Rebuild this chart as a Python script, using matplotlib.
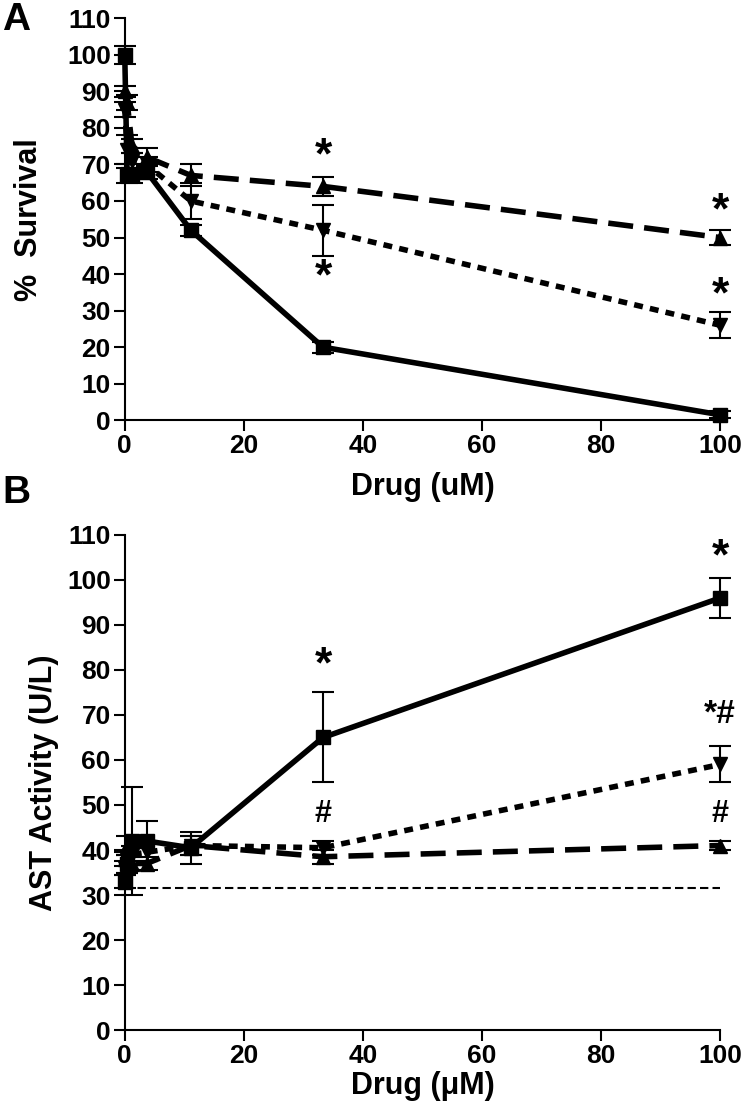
import matplotlib
matplotlib.use("Agg")
import matplotlib.pyplot as plt

plt.rcParams['font.family'] = ['Liberation Sans', 'DejaVu Sans']
plt.rcParams['font.weight'] = 'bold'

dose = [0, 0.41, 1.23, 3.7, 11.1, 33.3, 100]

# panel A: % survival
surv_sq = [100, 67, 67, 68, 52, 20, 1.5]
surv_sq_err = [2.5, 2, 2, 2, 1.5, 1.5, 1]
surv_up = [90, 87, 75, 72, 67, 64, 50]
surv_up_err = [1.5, 2, 2, 2.5, 3, 2.5, 2]
surv_dn = [85, 74, 71, 70, 60, 52, 26]
surv_dn_err = [2, 4, 2, 2, 5, 7, 3.5]

# panel B: AST activity
ast_sq = [33, 37, 42, 42, 40.5, 65, 96]
ast_sq_err = [1.5, 2, 12, 4.5, 3.5, 10, 4.5]
ast_up = [38, 41, 37, 37, 41, 38.5, 41]
ast_up_err = [1.5, 2, 1.5, 1.5, 2, 1.5, 1]
ast_dn = [36, 37, 39, 39.5, 41, 40.5, 59]
ast_dn_err = [1.5, 2, 2, 2, 2, 1.5, 4]
ast_baseline = 31.5

yticks = list(range(0, 111, 10))
xticks = [0, 20, 40, 60, 80, 100]

fig = plt.figure(figsize=(7.47, 11.06), dpi=100)
axA = fig.add_axes([0.167, 0.620, 0.797, 0.3635])
axB = fig.add_axes([0.167, 0.0687, 0.797, 0.4476])


def draw(ax, sq, sq_e, up, up_e, dn, dn_e):
    styles = [
        (sq, sq_e, 's', None),
        (up, up_e, '^', (4.5, 2)),
        (dn, dn_e, 'v', (1.6, 1.3)),
    ]
    for y, e, m, dash in styles:
        line, caps, bars = ax.errorbar(dose, y, yerr=e, color='black', marker=m,
                                       markersize=10.5, linewidth=4, elinewidth=1.5,
                                       capsize=8, capthick=1.5, clip_on=False)
        if dash is not None:
            line.set_dashes(dash)
        for c in caps:
            c.set_clip_on(False)
        for b in bars:
            b.set_clip_on(False)


def style(ax, xlabel, ylabel, ylab_x, xpad):
    ax.set_xlim(0, 100)
    ax.set_ylim(0, 110)
    ax.set_xticks(xticks)
    ax.set_yticks(yticks)
    for s in ['top', 'right']:
        ax.spines[s].set_visible(False)
    for s in ['left', 'bottom']:
        ax.spines[s].set_linewidth(1.5)
    ax.tick_params(direction='out', length=8, width=1.5, labelsize=19, pad=2)
    for t in ax.get_xticklabels() + ax.get_yticklabels():
        t.set_fontweight('bold')
    ax.set_xlabel(xlabel, fontsize=22, fontweight='bold', labelpad=xpad)
    ax.set_ylabel(ylabel, fontsize=22, fontweight='bold')
    ax.yaxis.set_label_coords(ylab_x, 0.5)


draw(axA, surv_sq, surv_sq_err, surv_up, surv_up_err, surv_dn, surv_dn_err)
style(axA, 'Drug (uM)', '%  Survival', -0.135, 10)
star = dict(ha='center', va='center', fontsize=32, fontweight='bold')
axA.text(33.3, 72, '*', **star)
axA.text(33.3, 39, '*', **star)
axA.text(100, 57, '*', **star)
axA.text(100, 34, '*', **star)

draw(axB, ast_sq, ast_sq_err, ast_up, ast_up_err, ast_dn, ast_dn_err)
axB.axhline(ast_baseline, color='black', linewidth=1.5, dashes=(4, 2))
style(axB, 'Drug (\u03bcM)', 'AST Activity (U/L)', -0.11, 2)
axB.text(33.3, 81, '*', **star)
axB.text(33.3, 48, '#', ha='center', va='center', fontsize=22, fontweight='bold')
axB.text(100, 105, '*', **star)
axB.text(100, 70, '*#', ha='center', va='center', fontsize=24, fontweight='bold')
axB.text(100, 48, '#', ha='center', va='center', fontsize=22, fontweight='bold')

fig.text(0.003, 0.982, 'A', fontsize=28, fontweight='bold', va='center')
fig.text(0.003, 0.554, 'B', fontsize=28, fontweight='bold', va='center')

fig.savefig('out.png', dpi=100)
